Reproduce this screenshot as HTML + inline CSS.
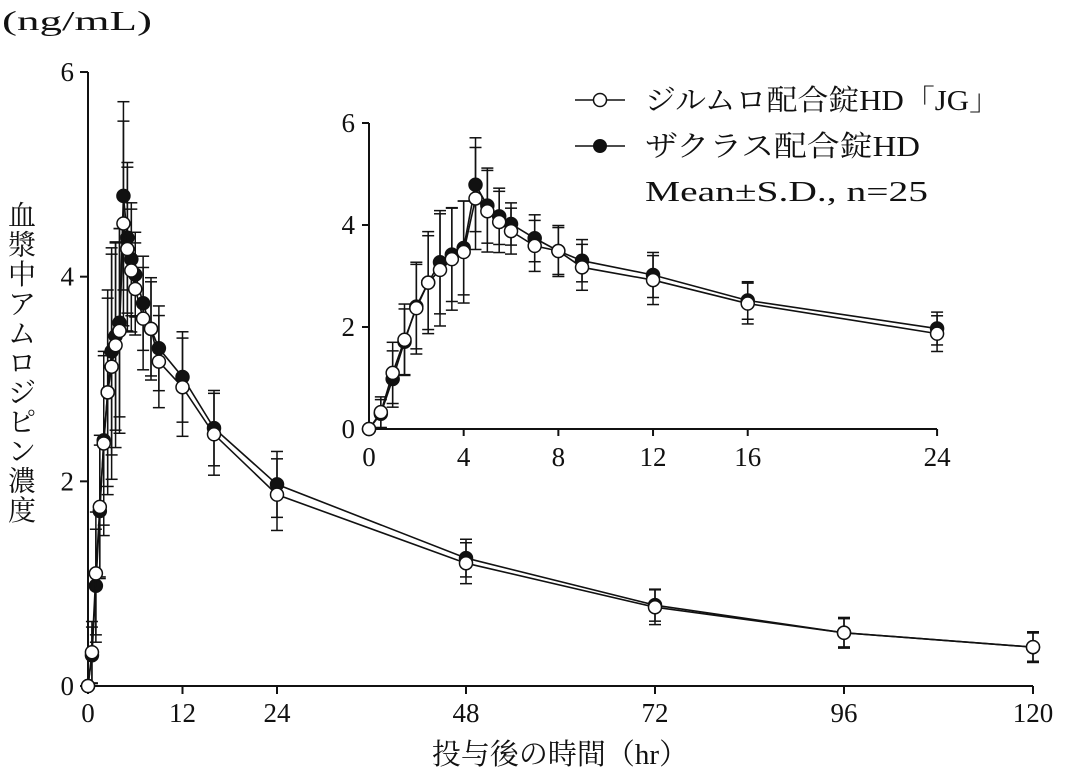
<!DOCTYPE html>
<html><head><meta charset="utf-8"><style>
html,body{margin:0;padding:0;background:#fff;}
svg text{font-family:"Liberation Serif","Noto Serif CJK SC",serif;fill:#111;}
</style></head><body>
<svg id="s" width="1066" height="777" xmlns="http://www.w3.org/2000/svg"></svg>
<script>
const S=document.getElementById('s');let h='';
const T=[0,0.5,1,1.5,2,2.5,3,3.5,4,4.5,5,5.5,6,7,8,9,12,16,24,48,72,96,120];
const A=[0,0.33,1.1,1.75,2.37,2.87,3.12,3.33,3.47,4.52,4.27,4.06,3.88,3.59,3.49,3.17,2.92,2.46,1.87,1.20,0.77,0.52,0.38];
const B=[0,0.3,0.98,1.71,2.4,2.87,3.27,3.42,3.55,4.79,4.38,4.17,4.02,3.74,3.49,3.3,3.02,2.52,1.97,1.25,0.79,0.52,0.38];
const SD=[0,0.3,0.6,0.7,0.9,1.0,1.1,1.0,1.0,1.0,0.8,0.6,0.45,0.5,0.5,0.45,0.48,0.4,0.35,0.2,0.17,0.15,0.15];
function plot(X,Y,n,r,bw){
 for(let i=1;i<n;i++){[A,B].forEach((d,k)=>{const x=X(T[i]);const s=SD[i]*(k?0.92:1);
  h+=`<line x1="${x}" x2="${x}" y1="${Y(d[i]+s)}" y2="${Y(d[i]-s)}" stroke="#111" stroke-width="1.5"/>`;
  h+=`<line x1="${x-bw}" x2="${x+bw}" y1="${Y(d[i]+s)}" y2="${Y(d[i]+s)}" stroke="#111" stroke-width="1.5"/>`;
  h+=`<line x1="${x-bw}" x2="${x+bw}" y1="${Y(d[i]-s)}" y2="${Y(d[i]-s)}" stroke="#111" stroke-width="1.5"/>`;});}
 [B,A].forEach((d,k)=>{let p='';for(let i=0;i<n;i++)p+=(i?'L':'M')+X(T[i])+','+Y(d[i]);
  h+=`<path d="${p}" fill="none" stroke="#111" stroke-width="1.6"/>`;
  for(let i=0;i<n;i++)h+=`<circle cx="${X(T[i])}" cy="${Y(d[i])}" r="${r}" fill="${k?'#fff':'#111'}" stroke="#111" stroke-width="1.5"/>`;});
}
const X=t=>88+t*7.875, Y=v=>686-v*102.33;
h+=`<line x1="88" y1="72" x2="88" y2="686" stroke="#111" stroke-width="2"/><line x1="88" y1="686" x2="1033" y2="686" stroke="#111" stroke-width="2"/>`;
[0,2,4,6].forEach(v=>{h+=`<line x1="80" x2="88" y1="${Y(v)}" y2="${Y(v)}" stroke="#111" stroke-width="2"/><text x="74" y="${Y(v)+9}" font-size="27" text-anchor="end">${v}</text>`});
[0,12,24,48,72,96,120].forEach(t=>{h+=`<line x1="${X(t)}" x2="${X(t)}" y1="686" y2="694" stroke="#111" stroke-width="2"/><text x="${X(t)}" y="722" font-size="27" text-anchor="middle">${t}</text>`});
plot(X,Y,23,6.5,6);
const x2=t=>369+t*23.67, y2=v=>429-v*51;
h+=`<line x1="369" y1="123" x2="369" y2="429" stroke="#111" stroke-width="2"/><line x1="369" y1="429" x2="937" y2="429" stroke="#111" stroke-width="2"/>`;
[0,2,4,6].forEach(v=>{h+=`<line x1="362" x2="369" y1="${y2(v)}" y2="${y2(v)}" stroke="#111" stroke-width="2"/><text x="355" y="${y2(v)+9}" font-size="27" text-anchor="end">${v}</text>`});
[0,4,8,12,16,24].forEach(t=>{h+=`<line x1="${x2(t)}" x2="${x2(t)}" y1="429" y2="436" stroke="#111" stroke-width="2"/><text x="${x2(t)}" y="466" font-size="27" text-anchor="middle">${t}</text>`});
plot(x2,y2,19,6.5,6);
h+=`<line x1="575" x2="625" y1="100" y2="100" stroke="#111" stroke-width="1.6"/><circle cx="600" cy="100" r="6.5" fill="#fff" stroke="#111" stroke-width="1.5"/>`;
h+=`<line x1="575" x2="625" y1="146" y2="146" stroke="#111" stroke-width="1.6"/><circle cx="600" cy="146" r="6.5" fill="#111" stroke="#111"/>`;
h+=`<text x="645" y="110" font-size="29" textLength="355" lengthAdjust="spacingAndGlyphs">ジルムロ配合錠HD「JG」</text>`;
h+=`<text x="645" y="156" font-size="29" textLength="275" lengthAdjust="spacingAndGlyphs">ザクラス配合錠HD</text>`;
h+=`<text x="645" y="201" font-size="29" textLength="283" lengthAdjust="spacingAndGlyphs">Mean±S.D., n=25</text>`;
h+=`<text x="2" y="30" font-size="27" textLength="150" lengthAdjust="spacingAndGlyphs">(ng/mL)</text>`;
h+=`<text x="560" y="764" font-size="29" text-anchor="middle">投与後の時間（hr）</text>`;
const yl='血漿中アムロジピン濃度';for(let i=0;i<yl.length;i++)h+=`<text x="22" y="${225+i*29.5}" font-size="28" text-anchor="middle">${yl[i]}</text>`;
S.innerHTML=h;
</script>
</body></html>
